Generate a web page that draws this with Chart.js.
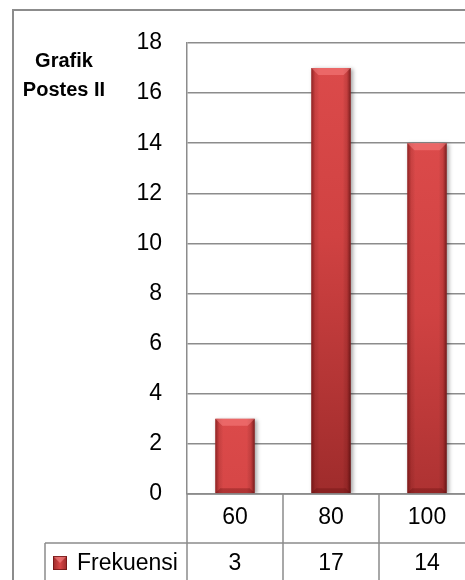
<!DOCTYPE html>
<html>
<head>
<meta charset="utf-8">
<script src="https://cdn.jsdelivr.net/npm/chart.js@4.4.1/dist/chart.umd.min.js"></script>
<style>
  html, body { margin: 0; padding: 0; background: #fff; overflow: hidden; }
  #wrap { width: 480px; height: 600px; }
</style>
</head>
<body>
<div id="wrap"><canvas id="c" width="480" height="600"></canvas></div>
<script>
// Chart data
const categories = ['60', '80', '100'];
const frekuensi = [3, 17, 14];
const seriesName = 'Frekuensi';
const titleLines = ['Grafik', 'Postes II'];
const yMin = 0, yMax = 18, yStep = 2;

const FONT = '"Liberation Sans", Arial, sans-serif';
const GRID = '#8c8c8c';

// Vertical red gradient starting at each bar's top
function barFill(ctx) {
  const chart = ctx.chart;
  if (!chart.chartArea || ctx.raw === undefined) return '#c83c3c';
  const top = chart.scales.y.getPixelForValue(ctx.raw);
  const g = chart.ctx.createLinearGradient(0, top, 0, top + 420);
  g.addColorStop(0, '#db4a4a');
  g.addColorStop(0.4, '#d04242');
  g.addColorStop(1, '#a02c2c');
  return g;
}

// Soft shadow behind the bars
const barShadow = {
  id: 'barShadow',
  beforeDatasetsDraw(chart) {
    const ctx = chart.ctx;
    ctx.save();
    ctx.shadowColor = 'rgba(0,0,0,0.35)';
    ctx.shadowBlur = 4;
    ctx.shadowOffsetX = 2;
    ctx.shadowOffsetY = 1;
  },
  afterDatasetsDraw(chart) {
    const ctx = chart.ctx;
    ctx.restore();
    // bevel shading on each bar
    const meta = chart.getDatasetMeta(0);
    meta.data.forEach(bar => {
      const { x, y, base, width } = bar.getProps(['x', 'y', 'base', 'width'], true);
      const l = x - width / 2, r = x + width / 2;
      ctx.save();
      const h = ctx.createLinearGradient(l, 0, r, 0);
      h.addColorStop(0, 'rgba(80,5,5,0.55)');
      h.addColorStop(0.1, 'rgba(80,5,5,0.12)');
      h.addColorStop(0.2, 'rgba(0,0,0,0)');
      h.addColorStop(0.8, 'rgba(0,0,0,0)');
      h.addColorStop(0.9, 'rgba(80,5,5,0.15)');
      h.addColorStop(1, 'rgba(50,0,0,0.6)');
      ctx.fillStyle = h;
      ctx.fillRect(l, y, width, base - y);
      const b = 7;
      ctx.beginPath();
      ctx.moveTo(l, y); ctx.lineTo(r, y); ctx.lineTo(r - b, y + b); ctx.lineTo(l + b, y + b);
      ctx.closePath();
      ctx.fillStyle = 'rgba(255,140,140,0.45)';
      ctx.fill();
      ctx.beginPath();
      ctx.moveTo(l, base); ctx.lineTo(r, base); ctx.lineTo(r - 5, base - 5); ctx.lineTo(l + 5, base - 5);
      ctx.closePath();
      ctx.fillStyle = 'rgba(90,10,10,0.3)';
      ctx.fill();
      ctx.restore();
    });
  }
};

// Data table under the plot, side title and outer frame
const dataTable = {
  id: 'dataTable',
  afterDraw(chart) {
    const ctx = chart.ctx;
    const area = chart.chartArea;
    const xs = chart.scales.x;
    const n = categories.length;
    const cw = (area.right - area.left) / n;
    const axisY = area.bottom;
    const rowY = xs.bottom;
    const H = chart.height;
    const legendLeft = 45;

    ctx.save();
    ctx.strokeStyle = GRID;
    ctx.lineWidth = 1.5;
    ctx.beginPath();
    // axis line / top of table
    ctx.moveTo(area.left, axisY); ctx.lineTo(area.right, axisY);
    // column separators
    for (let i = 0; i <= n; i++) {
      const bx = area.left + i * cw;
      ctx.moveTo(bx, axisY); ctx.lineTo(bx, H);
    }
    // series row
    ctx.moveTo(legendLeft, rowY); ctx.lineTo(area.right, rowY);
    ctx.moveTo(legendLeft, rowY); ctx.lineTo(legendLeft, H);
    ctx.stroke();

    // values row
    ctx.fillStyle = '#000';
    ctx.font = '23px ' + FONT;
    ctx.textAlign = 'center';
    ctx.textBaseline = 'alphabetic';
    const valY = rowY + 27;
    frekuensi.forEach((v, i) => {
      ctx.fillText(String(v), xs.getPixelForValue(i), valY);
    });

    // legend key
    const kx = 53, ky = rowY + 13, ks = 14;
    const kg = ctx.createLinearGradient(kx, 0, kx + ks, 0);
    kg.addColorStop(0, '#9a2a2a');
    kg.addColorStop(0.5, '#d84646');
    kg.addColorStop(1, '#9a2a2a');
    ctx.fillStyle = kg;
    ctx.fillRect(kx, ky, ks, ks);
    ctx.beginPath();
    ctx.moveTo(kx, ky); ctx.lineTo(kx + ks, ky); ctx.lineTo(kx + ks / 2, ky + ks / 2); ctx.closePath();
    ctx.fillStyle = 'rgba(255,150,150,0.5)';
    ctx.fill();
    ctx.strokeStyle = 'rgba(110,20,20,0.8)';
    ctx.lineWidth = 1;
    ctx.strokeRect(kx + 0.5, ky + 0.5, ks - 1, ks - 1);

    ctx.fillStyle = '#000';
    ctx.textAlign = 'left';
    ctx.fillText(seriesName, 77, valY);

    // side title
    ctx.font = 'bold 20px ' + FONT;
    ctx.textAlign = 'center';
    ctx.fillText(titleLines[0], 64, 67);
    ctx.fillText(titleLines[1], 64, 96);

    // outer frame
    ctx.strokeStyle = GRID;
    ctx.lineWidth = 2;
    ctx.strokeRect(13, 10, chart.width - 14, H - 11);
    ctx.restore();
  }
};

new Chart(document.getElementById('c'), {
  type: 'bar',
  data: {
    labels: categories,
    datasets: [{
      label: seriesName,
      data: frekuensi,
      backgroundColor: barFill,
      borderWidth: 0,
      categoryPercentage: 1,
      barPercentage: 0.41
    }]
  },
  options: {
    responsive: false,
    animation: false,
    devicePixelRatio: 1,
    layout: { padding: { left: 0, top: 43, right: 5, bottom: 57 } },
    plugins: {
      legend: { display: false },
      title: { display: false },
      tooltip: { enabled: false }
    },
    scales: {
      x: {
        grid: { display: false, drawTicks: false },
        border: { display: false },
        ticks: { color: '#000', font: { family: FONT, size: 23 }, padding: 10, maxRotation: 0 },
        afterFit(scale) { scale.height = 49; }
      },
      y: {
        min: yMin,
        max: yMax,
        ticks: { stepSize: yStep, color: '#000', font: { family: FONT, size: 23 }, padding: 25 },
        grid: { color: GRID, lineWidth: 1.5, drawTicks: false },
        border: { display: true, color: GRID, width: 1.5 },
        afterFit(scale) { scale.width = 187; }
      }
    }
  },
  plugins: [barShadow, dataTable]
});
</script>
</body>
</html>
